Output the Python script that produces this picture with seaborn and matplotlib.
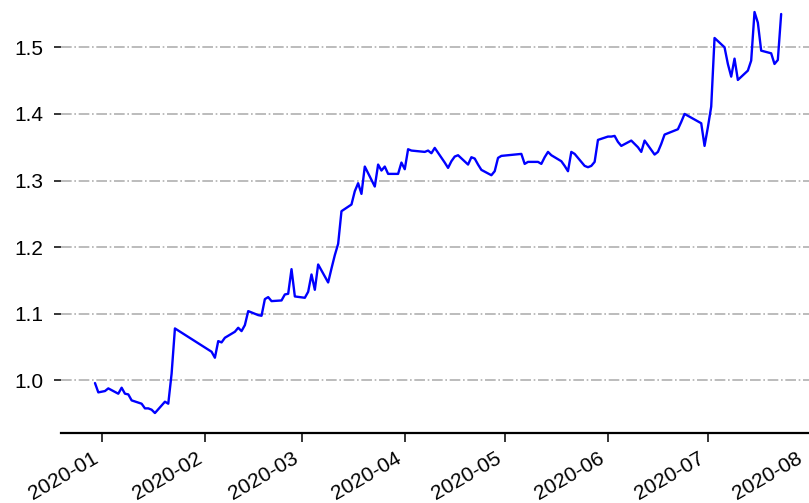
import pandas as pd
import matplotlib.pyplot as plt
import matplotlib.dates as mdates
from matplotlib.transforms import ScaledTranslation
import seaborn as sns

# trading calendar (SSE), Chinese market holidays removed
start_date = '2019-12-30'
end_date = '2020-07-23'
holidays = ['2020-01-01', '2020-01-24', '2020-01-27', '2020-01-28', '2020-01-29',
            '2020-01-30', '2020-01-31', '2020-04-06', '2020-05-01', '2020-05-04',
            '2020-05-05', '2020-06-25', '2020-06-26']

# net value, read month by month
nav_dec = [0.996, 0.982]
nav_jan = [0.984, 0.988, 0.980, 0.989, 0.980, 0.979, 0.970, 0.965, 0.958, 0.958,
           0.956, 0.951, 0.968, 0.965, 1.010, 1.078]
nav_feb = [1.043, 1.034, 1.059, 1.057, 1.064, 1.073, 1.079, 1.074, 1.083, 1.104,
           1.098, 1.097, 1.122, 1.125, 1.119, 1.120, 1.129, 1.130, 1.167, 1.126]
nav_mar = [1.124, 1.133, 1.159, 1.136, 1.174, 1.147, 1.168, 1.188, 1.205, 1.254,
           1.264, 1.284, 1.296, 1.280, 1.321, 1.291, 1.324, 1.315, 1.321, 1.310,
           1.310, 1.327]
nav_apr = [1.317, 1.347, 1.345, 1.343, 1.345, 1.341, 1.349, 1.327, 1.319, 1.329,
           1.336, 1.338, 1.324, 1.335, 1.333, 1.324, 1.316, 1.308, 1.314, 1.334,
           1.337]
nav_may = [1.340, 1.325, 1.328, 1.328, 1.325, 1.335, 1.343, 1.338, 1.329, 1.322,
           1.314, 1.343, 1.340, 1.322, 1.320, 1.322, 1.328, 1.361]
nav_jun = [1.366, 1.366, 1.367, 1.358, 1.352, 1.360, 1.355, 1.350, 1.343, 1.360,
           1.339, 1.343, 1.355, 1.369, 1.371, 1.377, 1.388, 1.400, 1.386, 1.352]
nav_jul = [1.380, 1.411, 1.514, 1.500, 1.475, 1.456, 1.483, 1.451, 1.465, 1.480,
           1.553, 1.537, 1.495, 1.491, 1.475, 1.481, 1.550]

dates = pd.bdate_range(start_date, end_date, freq='C', holidays=holidays)
nav = nav_dec + nav_jan + nav_feb + nav_mar + nav_apr + nav_may + nav_jun + nav_jul
df = pd.DataFrame({'date': dates, 'nav': nav})

sns.set_style('ticks')
plt.rcParams['font.family'] = ['Liberation Sans', 'DejaVu Sans']
plt.rcParams['xtick.color'] = 'black'
plt.rcParams['ytick.color'] = 'black'
plt.rcParams['axes.edgecolor'] = 'black'

fig = plt.figure(figsize=(8.09, 5.03), dpi=100)
ax = fig.add_axes([0.075, 0.139, 0.933, 0.877])

sns.lineplot(data=df, x='date', y='nav', color='blue', linewidth=1.7, ax=ax)

ax.grid(axis='y', linestyle='-.', color='#b0b0b0', linewidth=1.2)
ax.grid(axis='x', visible=False)
ax.set_xlabel('')
ax.set_ylabel('')

ax.xaxis.set_major_locator(mdates.MonthLocator())
ax.xaxis.set_major_formatter(mdates.DateFormatter('%Y-%m'))

ax.tick_params(axis='y', length=5.3, width=1.1, pad=7, labelsize=15, labelcolor='black')
ax.tick_params(axis='x', length=6.5, width=1.1, pad=5, labelsize=15, labelcolor='black')

sns.despine(ax=ax, left=True)
ax.spines['bottom'].set_linewidth(1.6)

fig.canvas.draw()
labels = ax.get_xticklabels()
for lbl in labels:
    lbl.set_rotation(30)
    lbl.set_ha('right')
# last month label sits at the very edge, nudge it inside
labels[-1].set_transform(labels[-1].get_transform() +
                         ScaledTranslation(-4 / 72, 0, fig.dpi_scale_trans))

plt.savefig('out.png', dpi=100)
plt.close()
